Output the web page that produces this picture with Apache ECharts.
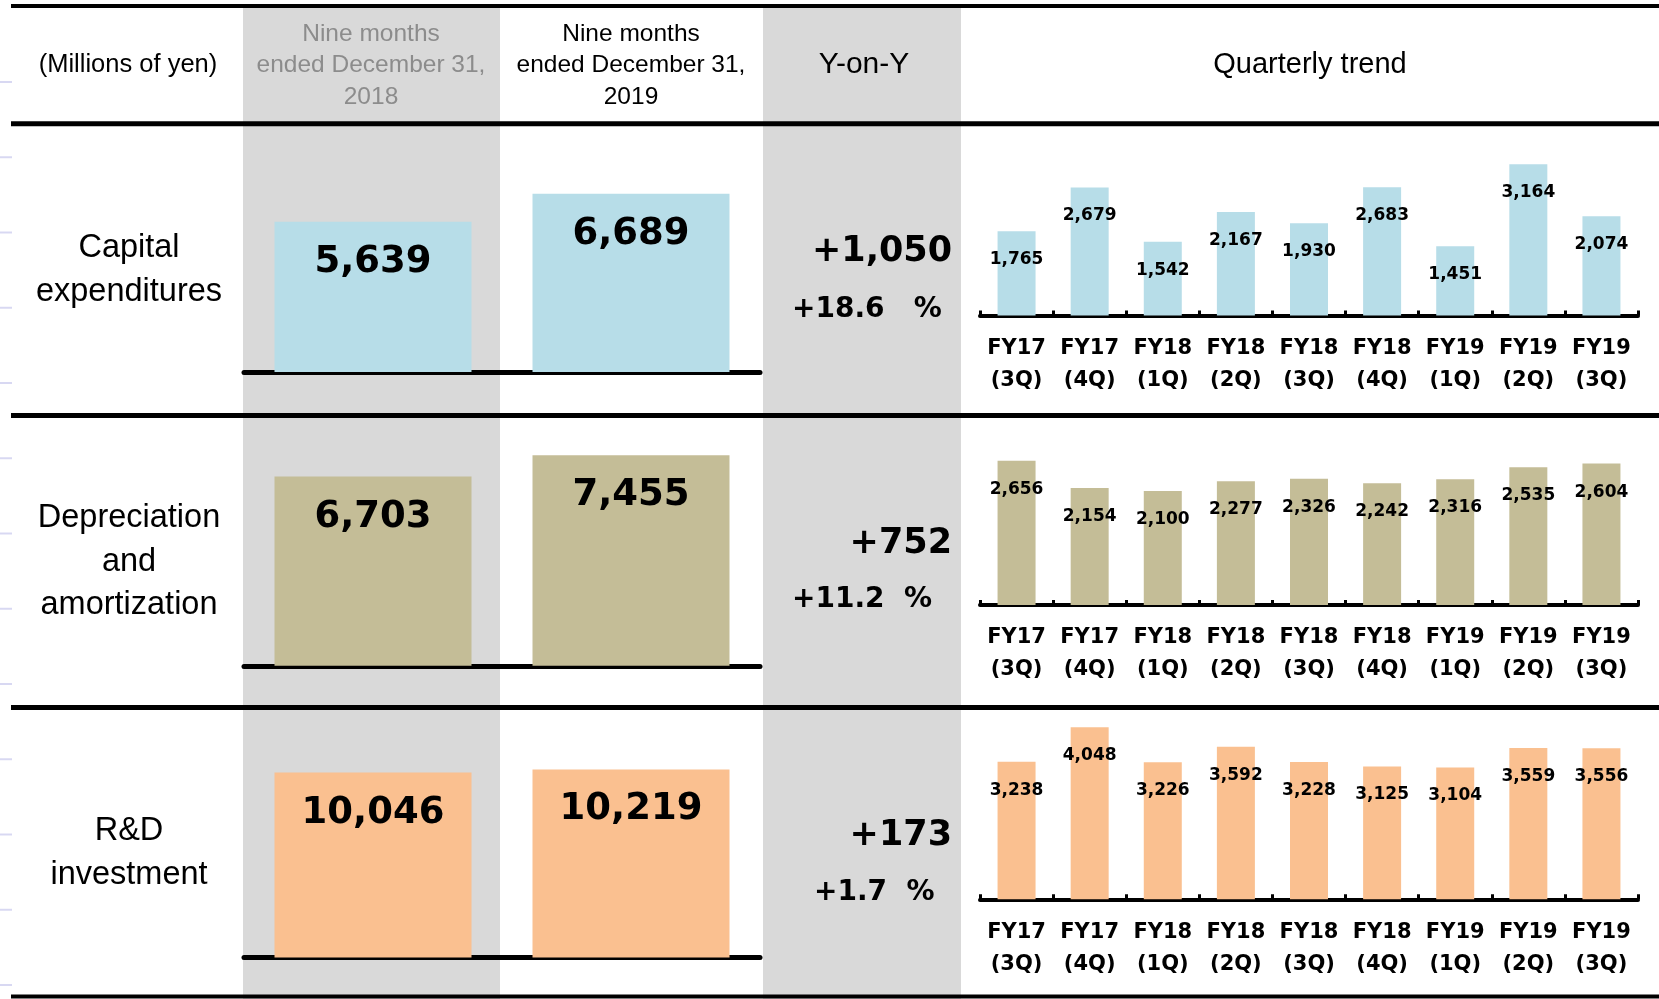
<!DOCTYPE html>
<html>
<head>
<meta charset="utf-8">
<script src="https://cdn.jsdelivr.net/npm/echarts@6/dist/echarts.min.js"></script>
<style>
  html, body { margin: 0; padding: 0; background: #fff; }
  #chart { width: 1659px; height: 999px; }
</style>
</head>
<body>
<div id="chart"></div>
<script>
// ---------------- DATA ----------------
const rowNames = ['Capital\nexpenditures', 'Depreciation\nand\namortization', 'R&D\ninvestment'];
const periodHeaders = ['Nine months\nended December 31,\n2018', 'Nine months\nended December 31,\n2019'];
const unitLabel = '(Millions of yen)';
const yoyHeader = 'Y-on-Y';
const trendHeader = 'Quarterly trend';

const capexNine = [5639, 6689];
const daNine = [6703, 7455];
const rdNine = [10046, 10219];

const quarterFY = ['FY17', 'FY17', 'FY18', 'FY18', 'FY18', 'FY18', 'FY19', 'FY19', 'FY19'];
const quarterQ = ['(3Q)', '(4Q)', '(1Q)', '(2Q)', '(3Q)', '(4Q)', '(1Q)', '(2Q)', '(3Q)'];

const capexQ = [1765, 2679, 1542, 2167, 1930, 2683, 1451, 3164, 2074];
const daQ = [2656, 2154, 2100, 2277, 2326, 2242, 2316, 2535, 2604];
const rdQ = [3238, 4048, 3226, 3592, 3228, 3125, 3104, 3559, 3556];

// ---------------- LAYOUT / STYLE ----------------
const colors = ['#b7dde8', '#c4bd97', '#fac090'];
const nineSets = [capexNine, daNine, rdNine];
const qSets = [capexQ, daQ, rdQ];
const layout = [
  { nTop: 158.7, nH: 213.3, nMax: 8000,  qTop: 124.3, qH: 191.2, qMax: 4000, nameY: 270, yoyY: 252, pctY: 310, pctX: 792, gap: 3 },
  { nTop: 439.9, nH: 225.9, nMax: 8000,  qTop: 442.1, qH: 162.9, qMax: 3000, nameY: 562, yoyY: 544, pctY: 600, pctX: 792, gap: 2 },
  { nTop: 736.6, nH: 220.9, nMax: 12000, qTop: 686.8, qH: 212.5, qMax: 5000, nameY: 853, yoyY: 836, pctY: 893, pctX: 814, gap: 2 }
];
const regFont = '"Liberation Sans", Arial, sans-serif';
const boldFont = '"DejaVu Sans", sans-serif';
const fmt = v => v.toLocaleString('en-US');

const grids = [], xAxes = [], yAxes = [], series = [];
layout.forEach((L, r) => {
  // nine-month comparison
  grids.push({ left: 244, width: 516, top: L.nTop, height: L.nH });
  xAxes.push({
    type: 'category', gridIndex: grids.length - 1, data: ['2018', '2019'],
    axisLine: { lineStyle: { color: '#000', width: 5 } },
    axisTick: { show: false }, axisLabel: { show: false }
  });
  yAxes.push({ type: 'value', gridIndex: grids.length - 1, min: 0, max: L.nMax, show: false, splitLine: { show: false } });
  series.push({
    type: 'bar', xAxisIndex: xAxes.length - 1, yAxisIndex: yAxes.length - 1,
    data: nineSets[r], barWidth: 197, itemStyle: { color: colors[r] },
    label: { show: true, position: 'insideTop', distance: 22, formatter: p => fmt(p.value),
      fontFamily: boldFont, fontWeight: 'bold', fontSize: 37, color: '#000' }
  });
  // quarterly trend
  grids.push({ left: 980, width: 658, top: L.qTop, height: L.qH });
  xAxes.push({
    type: 'category', gridIndex: grids.length - 1,
    data: quarterFY.map((f, i) => f + '\n' + quarterQ[i]),
    axisLine: { lineStyle: { color: '#000', width: 4 } },
    axisTick: { show: true, inside: true, length: 5, interval: 0, lineStyle: { color: '#000', width: 3 } },
    axisLabel: { interval: 0, margin: 17, color: '#000', fontFamily: boldFont, fontWeight: 'bold', fontSize: 21, lineHeight: 32 }
  });
  yAxes.push({ type: 'value', gridIndex: grids.length - 1, min: 0, max: L.qMax, show: false, splitLine: { show: false } });
  series.push({
    type: 'bar', xAxisIndex: xAxes.length - 1, yAxisIndex: yAxes.length - 1,
    data: qSets[r], barWidth: 38, itemStyle: { color: colors[r] },
    label: { show: true, position: 'insideTop', distance: 20, formatter: p => fmt(p.value),
      fontFamily: boldFont, fontWeight: 'bold', fontSize: 17, color: '#000' }
  });
});

// ---------------- GRAPHICS (table frame + texts) ----------------
const g = [];
// grey columns
g.push({ type: 'rect', z: -10, shape: { x: 243, y: 8, width: 257, height: 991 }, style: { fill: '#d9d9d9' } });
g.push({ type: 'rect', z: -10, shape: { x: 763, y: 8, width: 198, height: 991 }, style: { fill: '#d9d9d9' } });
// ruler marks at left edge
for (let i = 0; i < 13; i++) {
  const y = 82 + i * 75.25;
  g.push({ type: 'rect', z: 5, shape: { x: 0, y: y - 1, width: 12, height: 2 }, style: { fill: '#d8d8f2' } });
}
// horizontal rules
[[6, 4], [123.7, 5], [415.5, 5], [707.5, 5], [996.5, 4]].forEach(([y, h]) => {
  g.push({ type: 'rect', z: 20, shape: { x: 11, y: y - h / 2, width: 1648, height: h }, style: { fill: '#000' } });
});
// header texts
const txt = (text, x, y, size, opts = {}) => ({
  type: 'text', z: 30, x: x, y: y,
  style: Object.assign({ text, fill: '#000', fontFamily: regFont, fontSize: size,
    textAlign: 'center', textVerticalAlign: 'middle', lineHeight: Math.round(size * 1.3) }, opts)
});
g.push(txt(unitLabel, 128, 65, 25.5));
g.push(txt(periodHeaders[0], 371, 65.5, 24.5, { fill: '#8c8c8c', lineHeight: 31.7 }));
g.push(txt(periodHeaders[1], 631, 65.5, 24.5, { lineHeight: 31.7 }));
g.push(txt(yoyHeader, 864, 65, 30));
g.push(txt(trendHeader, 1310, 65, 29));
// row names and Y-on-Y
layout.forEach((L, r) => {
  g.push(txt(rowNames[r], 129, L.nameY, 32.5, { lineHeight: 43.5 }));
  const d = nineSets[r][1] - nineSets[r][0];
  const pct = d / nineSets[r][0] * 100;
  g.push(txt((d >= 0 ? '+' : '') + fmt(d), 952, L.yoyY, 35,
    { fontFamily: boldFont, fontWeight: 'bold', textAlign: 'right' }));
  g.push(txt((pct >= 0 ? '+' : '') + pct.toFixed(1) + ' '.repeat(L.gap) + '%', L.pctX, L.pctY, 28,
    { fontFamily: boldFont, fontWeight: 'bold', textAlign: 'left' }));
});

const chart = echarts.init(document.getElementById('chart'), null, { renderer: 'canvas' });
chart.setOption({
  animation: false,
  backgroundColor: '#fff',
  grid: grids, xAxis: xAxes, yAxis: yAxes, series: series,
  graphic: { elements: g }
});
</script>
</body>
</html>
